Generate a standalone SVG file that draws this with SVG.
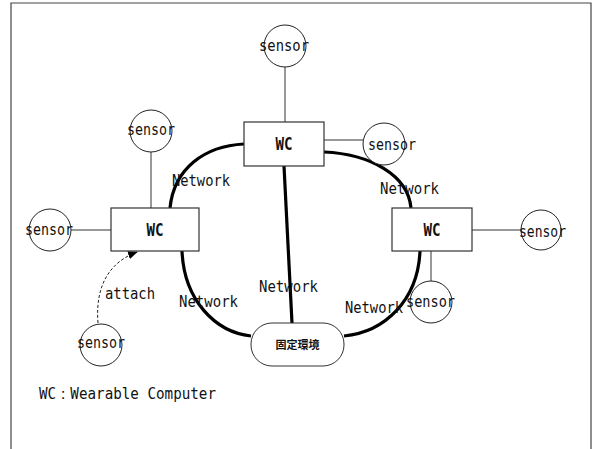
<svg xmlns="http://www.w3.org/2000/svg" width="593" height="449" viewBox="0 0 593 449">
<defs>
<style>
.t{font-family:"DejaVu Sans Mono","Liberation Mono",monospace;font-size:16px;fill:#111}
.wc{font-family:"DejaVu Sans Mono","Liberation Mono",monospace;font-size:17px;font-weight:bold;fill:#111;text-anchor:middle}
.box{fill:#fff;stroke:#333;stroke-width:1.2}
.c{fill:#fff;stroke:#222;stroke-width:1}
.ln{stroke:#333;stroke-width:1;fill:none}
.net{stroke:#000;stroke-width:3.2;fill:none}
</style>
<marker id="ah" markerWidth="10" markerHeight="8" refX="9" refY="4" orient="auto" markerUnits="userSpaceOnUse">
<path d="M0,0 L10,4 L0,8 Z" fill="#000"/>
</marker>
</defs>
<rect width="593" height="449" fill="#fff"/>
<path d="M11,449 V3 H591 V449" fill="none" stroke="#444" stroke-width="1.2"/>

<g id="connectors">
<line class="ln" x1="285" y1="67" x2="285" y2="122"/>
<line class="ln" x1="151" y1="152" x2="151" y2="208"/>
<line class="ln" x1="71" y1="230" x2="111" y2="230"/>
<line class="ln" x1="324" y1="140" x2="363" y2="140"/>
<line class="ln" x1="472" y1="230" x2="521" y2="230"/>
<line class="ln" x1="431" y1="251" x2="431" y2="281"/>
<path class="net" d="M244,144 C205,146 174,168 170,208"/>
<path class="net" d="M324,152 C370,154 408,175 411,208"/>
<path class="net" d="M182,251 C184,300 215,332 251,336"/>
<path class="net" d="M420,251 C418,300 385,332 344,336"/>
<path class="net" d="M284,166 L292,323"/>
<path d="M98,323 C95,285 110,262 137,252" fill="none" stroke="#222" stroke-width="1" stroke-dasharray="3,2" marker-end="url(#ah)"/>
<text class="t" x="172" y="186" textLength="58" lengthAdjust="spacingAndGlyphs">Network</text>
<text class="t" x="380" y="194" textLength="59" lengthAdjust="spacingAndGlyphs">Network</text>
<text class="t" x="179" y="307" textLength="59" lengthAdjust="spacingAndGlyphs">Network</text>
<text class="t" x="259" y="292" textLength="59" lengthAdjust="spacingAndGlyphs">Network</text>
<text class="t" x="345" y="313" textLength="58" lengthAdjust="spacingAndGlyphs">Network</text>
<text class="t" x="105" y="299" textLength="50" lengthAdjust="spacingAndGlyphs">attach</text>
</g>

<g id="wc-top"><rect class="box" x="244" y="122" width="80" height="44"/><text class="wc" x="284" y="150" textLength="17" lengthAdjust="spacingAndGlyphs">WC</text></g>
<g id="wc-left"><rect class="box" x="111" y="208" width="88" height="43"/><text class="wc" x="155" y="236" textLength="17" lengthAdjust="spacingAndGlyphs">WC</text></g>
<g id="wc-right"><rect class="box" x="392" y="208" width="80" height="43"/><text class="wc" x="432" y="236" textLength="17" lengthAdjust="spacingAndGlyphs">WC</text></g>

<g id="env"><rect x="251" y="323" width="93" height="43" rx="21" ry="21" fill="#fff" stroke="#333" stroke-width="1"/><text x="297.5" y="349" text-anchor="middle" font-family="Noto Sans CJK JP, sans-serif" font-size="11" font-weight="bold" fill="#111">固定環境</text></g>

<g id="sensor-top"><circle class="c" cx="285" cy="46" r="21"/><text class="t" x="259" y="51" textLength="50" lengthAdjust="spacingAndGlyphs">sensor</text></g>
<g id="sensor-lefttop"><circle class="c" cx="151" cy="131" r="21"/><text class="t" x="127" y="135" textLength="48" lengthAdjust="spacingAndGlyphs">sensor</text></g>
<g id="sensor-left"><circle class="c" cx="50" cy="230" r="21"/><text class="t" x="25" y="235" textLength="48" lengthAdjust="spacingAndGlyphs">sensor</text></g>
<g id="sensor-topright"><circle class="c" cx="384" cy="144" r="21"/><text class="t" x="368" y="150" textLength="48" lengthAdjust="spacingAndGlyphs">sensor</text></g>
<g id="sensor-right"><circle class="c" cx="541" cy="230" r="20"/><text class="t" x="519" y="237" textLength="47" lengthAdjust="spacingAndGlyphs">sensor</text></g>
<g id="sensor-bottomright"><circle class="c" cx="431" cy="302" r="21"/><text class="t" x="406" y="307" textLength="49" lengthAdjust="spacingAndGlyphs">sensor</text></g>
<g id="sensor-attach"><circle class="c" cx="101" cy="345" r="21"/><text class="t" x="77" y="348" textLength="48" lengthAdjust="spacingAndGlyphs">sensor</text></g>

<g id="legend"><text class="t" x="39" y="399" textLength="177" lengthAdjust="spacingAndGlyphs">WC：Wearable Computer</text></g>
</svg>
